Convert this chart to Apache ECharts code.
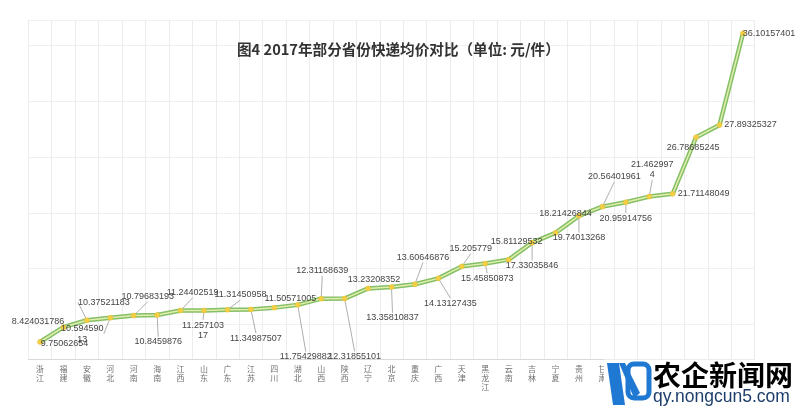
<!DOCTYPE html>
<html>
<head>
<meta charset="utf-8">
<script src="https://cdn.jsdelivr.net/npm/echarts@6/dist/echarts.min.js"></script>
<style>html,body{margin:0;padding:0;background:#fff;}#c{width:800px;height:408px;}</style>
</head>
<body>
<div id="c"></div>
<script>
const titleText = '图4 2017年部分省份快递均价对比（单位: 元/件）';
const categories = ['浙江','福建','安徽','河北','河南','海南','江西','山东','广东','江苏','四川','湖北','山西','陕西','辽宁','北京','重庆','广西','天津','黑龙江','云南','吉林','宁夏','贵州','甘肃','湖南','上海','内蒙古','青海','新疆','西藏'];
const values = [8.424031786, 9.75062654, 10.37521183, 10.59459013, 10.79683193, 10.8459876, 11.24402519, 11.25710317, 11.31450958, 11.34987507, 11.50571005, 11.75429882, 12.31168639, 12.31855101, 13.23208352, 13.35810837, 13.60646876, 14.13127435, 15.205779, 15.45850873, 15.81129532, 17.33035846, 18.21426844, 19.74013268, 20.56401961, 20.95914756, 21.4629974, 21.71148049, 26.78685245, 27.89325327, 36.10157401];

// label placement (offset of label centre from its point), leader lines and wrapped labels
const labelOffsets = [[-2,-20],[1,16],[17,-18],[-28,16],[14,-19],[1,27],[12,-18],[-1,20],[13,-15],[5,29],[16,-9],[8,52],[1,-28],[10,58],[6,-9],[1,31],[8,-27],[12,25],[9,-18],[2,15],[8,-18],[0,23],[10,-19],[0,22],[12,-30],[0,16],[3,-27],[31,0],[-3,10],[31,0],[26,0]];
const leaderIdx = [2,3,4,5,6,7,8,9,11,12,13,15,16,17,18,19,21,23,24,25,26];
const wrapIdx = [3,7,26];

const chart = echarts.init(document.getElementById('c'), null, {renderer: 'canvas'});

const dataItems = values.map((v, i) => {
  const item = { value: v, labelLine: { show: leaderIdx.indexOf(i) >= 0 } };
  if (wrapIdx.indexOf(i) >= 0) {
    item.label = { width: 43, overflow: 'breakAll', align: 'center' };
  }
  return item;
});

chart.setOption({
  animation: false,
  backgroundColor: '#ffffff',
  title: {
    text: titleText,
    left: 232,
    top: 37,
    textStyle: { fontFamily: 'Noto Sans CJK SC', fontSize: 14.6, fontWeight: 'bold', color: '#333333' }
  },
  grid: { left: 28.3, right: 45.3, top: 20, bottom: 49, containLabel: false },
  xAxis: {
    type: 'category',
    data: categories,
    boundaryGap: true,
    axisLine: { show: true, lineStyle: { color: '#d9d9d9', width: 1 } },
    axisTick: { show: false },
    splitLine: { show: true, lineStyle: { color: '#ececec', width: 1 } },
    axisLabel: {
      interval: 0,
      margin: 5,
      fontSize: 8,
      lineHeight: 9,
      color: '#707070',
      fontFamily: 'Noto Sans CJK SC',
      formatter: s => s.split('').join('\n')
    }
  },
  yAxis: {
    type: 'value',
    min: 6.9,
    max: 37.3,
    axisLine: { show: false },
    axisTick: { show: false },
    axisLabel: { show: false },
    splitLine: { show: true, lineStyle: { color: '#f0f0f0', width: 1 } }
  },
  series: [
    {
      type: 'line',
      data: values,
      silent: true,
      showSymbol: false,
      symbol: 'none',
      z: 2,
      lineStyle: { color: '#86c066', width: 4.5 }
    },
    {
      type: 'line',
      data: dataItems,
      z: 3,
      symbol: 'circle',
      symbolSize: 5,
      itemStyle: { color: '#f4cf45', borderColor: '#e8bd2c', borderWidth: 0.5 },
      lineStyle: { color: '#e2eeb0', width: 1.5 },
      label: {
        show: true,
        position: 'inside',
        fontSize: 9,
        fontFamily: 'Liberation Sans',
        color: '#454545',
        lineHeight: 10.5
      },
      labelLine: { show: true, lineStyle: { color: '#9a9a9a', width: 0.8 } },
      labelLayout: function (p) {
        const o = labelOffsets[p.dataIndex];
        return { dx: o[0], dy: o[1] };
      }
    }
  ],
  graphic: [
    { type: 'rect', shape: { x: 604, y: 359.5, width: 196, height: 49 }, style: { fill: '#ffffff' }, z: 100 },
    { type: 'polygon', shape: { points: [[607,363],[619,363],[625,405],[613,405]] }, style: { fill: '#1f78d1' }, z: 101 },
    { type: 'polygon', shape: { points: [[619,363],[625,363],[640,393],[634,398]] }, style: { fill: '#1f78d1' }, z: 101 },
    { type: 'rect', shape: { x: 628, y: 364, width: 21, height: 34, r: 6 }, style: { fill: 'none', stroke: '#1f78d1', lineWidth: 5 }, z: 101 },
    { type: 'text', x: 653, y: 361, style: { text: '农企新闻网', font: 'bold 28px "Noto Sans CJK SC"', fill: new echarts.graphic.LinearGradient(0,0,0,1,[{offset:0,color:'#2b95e6'},{offset:1,color:'#1558b8'}]) }, z: 101 },
    { type: 'text', x: 653, y: 388, style: { text: 'qy.nongcun5.com', font: '17.5px "Liberation Sans"', fill: '#1d3e6a' }, z: 101 }
  ]
});
</script>
</body>
</html>
